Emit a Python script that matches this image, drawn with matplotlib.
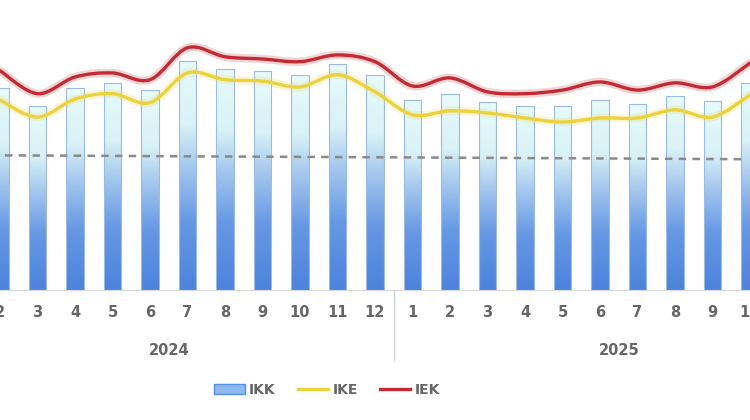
import matplotlib
matplotlib.use("Agg")
import matplotlib.pyplot as plt
import numpy as np
from matplotlib.path import Path
from matplotlib.patches import PathPatch, Patch
from matplotlib.lines import Line2D
from matplotlib.colors import LinearSegmentedColormap
import matplotlib.patheffects as pe

# Datos (feb 2024 .. oct 2025)
meses = [2, 3, 4, 5, 6, 7, 8, 9, 10, 11, 12,
         1, 2, 3, 4, 5, 6, 7, 8, 9, 10]
anios = ["2024", "2025"]
ikk = [114.9, 110.9, 114.9, 116.0, 114.4, 120.9, 119.1, 118.7, 117.8, 120.2, 117.8,
       112.2, 113.6, 111.8, 110.9, 110.9, 112.2, 111.3, 113.1, 112.0, 116.0]
ike = [112.2, 108.4, 112.4, 113.6, 111.6, 118.2, 116.7, 116.4, 115.1, 117.8, 114.0,
       108.9, 109.8, 109.3, 108.2, 107.3, 108.2, 108.2, 110.0, 108.4, 113.3]
iek = [118.7, 113.6, 117.3, 118.2, 116.7, 123.8, 121.8, 121.3, 120.7, 122.2, 120.7,
       115.3, 117.1, 114.0, 113.6, 114.4, 116.2, 114.4, 116.0, 115.1, 120.4]
umbral = [99.9, 99.05]  # linea punteada (extremo izq / der)

x = np.arange(1, len(meses) + 1)  # 0 = ene 2024
ymin, ymax = 70, 134.4
xmin, xmax = 1.132, 20.84

fig = plt.figure(figsize=(7.5, 4.2), dpi=100)
ax = fig.add_axes([0, (420 - 290) / 420, 1, 290 / 420])
ax.set_xlim(xmin, xmax)
ax.set_ylim(ymin, ymax)

# Barras con degradado
cmap = LinearSegmentedColormap.from_list(
    "ikk", [(0, "#4c83dc"), (0.3, "#6698e4"), (0.55, "#a8caef"),
            (0.72, "#d8f2f6"), (1, "#e8fbfb")])
grad = np.linspace(0, 1, 256).reshape(-1, 1)
ancho = 0.47
barras = ax.bar(x, np.array(ikk) - ymin, bottom=ymin, width=ancho,
                facecolor="none", edgecolor="#9dbbe0", linewidth=0.8, zorder=3)
for b in barras:
    x0, y0 = b.get_x(), b.get_y()
    im = ax.imshow(grad, cmap=cmap, origin="lower", aspect="auto",
                   extent=[x0, x0 + b.get_width(), y0, y0 + b.get_height()], zorder=2)
    im.set_clip_path(b)
ax.set_xlim(xmin, xmax)
ax.set_ylim(ymin, ymax)

# Linea punteada
ax.plot([xmin, xmax], umbral, ls=(0, (3, 2.5)), color="#8a8a8a", lw=1.8, zorder=4)


# Curvas suavizadas (estilo Excel)
def curva(xs, ys):
    pts = np.column_stack([xs, ys])
    verts = [pts[0]]
    codes = [Path.MOVETO]
    n = len(pts)
    for k in range(n - 1):
        p0 = pts[max(k - 1, 0)]
        p1 = pts[k]
        p2 = pts[k + 1]
        p3 = pts[min(k + 2, n - 1)]
        c1 = p1 + (p2 - p0) / 6
        c2 = p2 - (p3 - p1) / 6
        verts += [c1, c2, p2]
        codes += [Path.CURVE4] * 3
    return Path(verts, codes)


for serie, color in [(ike, "#ecd23c"), (iek, "#c42a33")]:
    pp = PathPatch(curva(x, serie), facecolor="none", edgecolor=color, lw=2.4,
                   zorder=5, capstyle="round")
    pp.set_path_effects([pe.Stroke(linewidth=6, foreground=color, alpha=0.2),
                         pe.Normal()])
    ax.add_patch(pp)

# Ejes
for s in ["top", "left", "right"]:
    ax.spines[s].set_visible(False)
ax.spines["bottom"].set_color("#d9d9d9")
ax.set_yticks([])
ax.set_xticks(x)
ax.set_xticklabels([str(m) for m in meses])
ax.tick_params(axis="x", length=0, pad=11, labelsize=10.5, labelcolor="#666666")
for t in ax.get_xticklabels():
    t.set_fontweight("bold")

# Anios y separador
for k, a in enumerate(anios):
    ax.text(5.5 + 12 * k, -0.207, a, transform=ax.get_xaxis_transform(),
            ha="center", va="center", fontsize=10.5, fontweight="bold", color="#666666")
ax.plot([11.5, 11.5], [0, -0.241], transform=ax.get_xaxis_transform(),
        color="#d0d2da", lw=1, clip_on=False)

# Leyenda
handles = [Patch(facecolor="#8fb8ee", edgecolor="#5a8fe0"),
           Line2D([], [], color="#ecd23c", lw=2.4),
           Line2D([], [], color="#c42a33", lw=2.4)]
fig.legend(handles, ["IKK", "IKE", "IEK"], loc="center", ncol=3, frameon=False,
           bbox_to_anchor=(0.436, 1 - 390 / 420), handlelength=2.2, columnspacing=1.6,
           handletextpad=0.3, prop={"size": 10, "weight": "bold"}, labelcolor="#666666")

fig.savefig("out.png", dpi=100)
